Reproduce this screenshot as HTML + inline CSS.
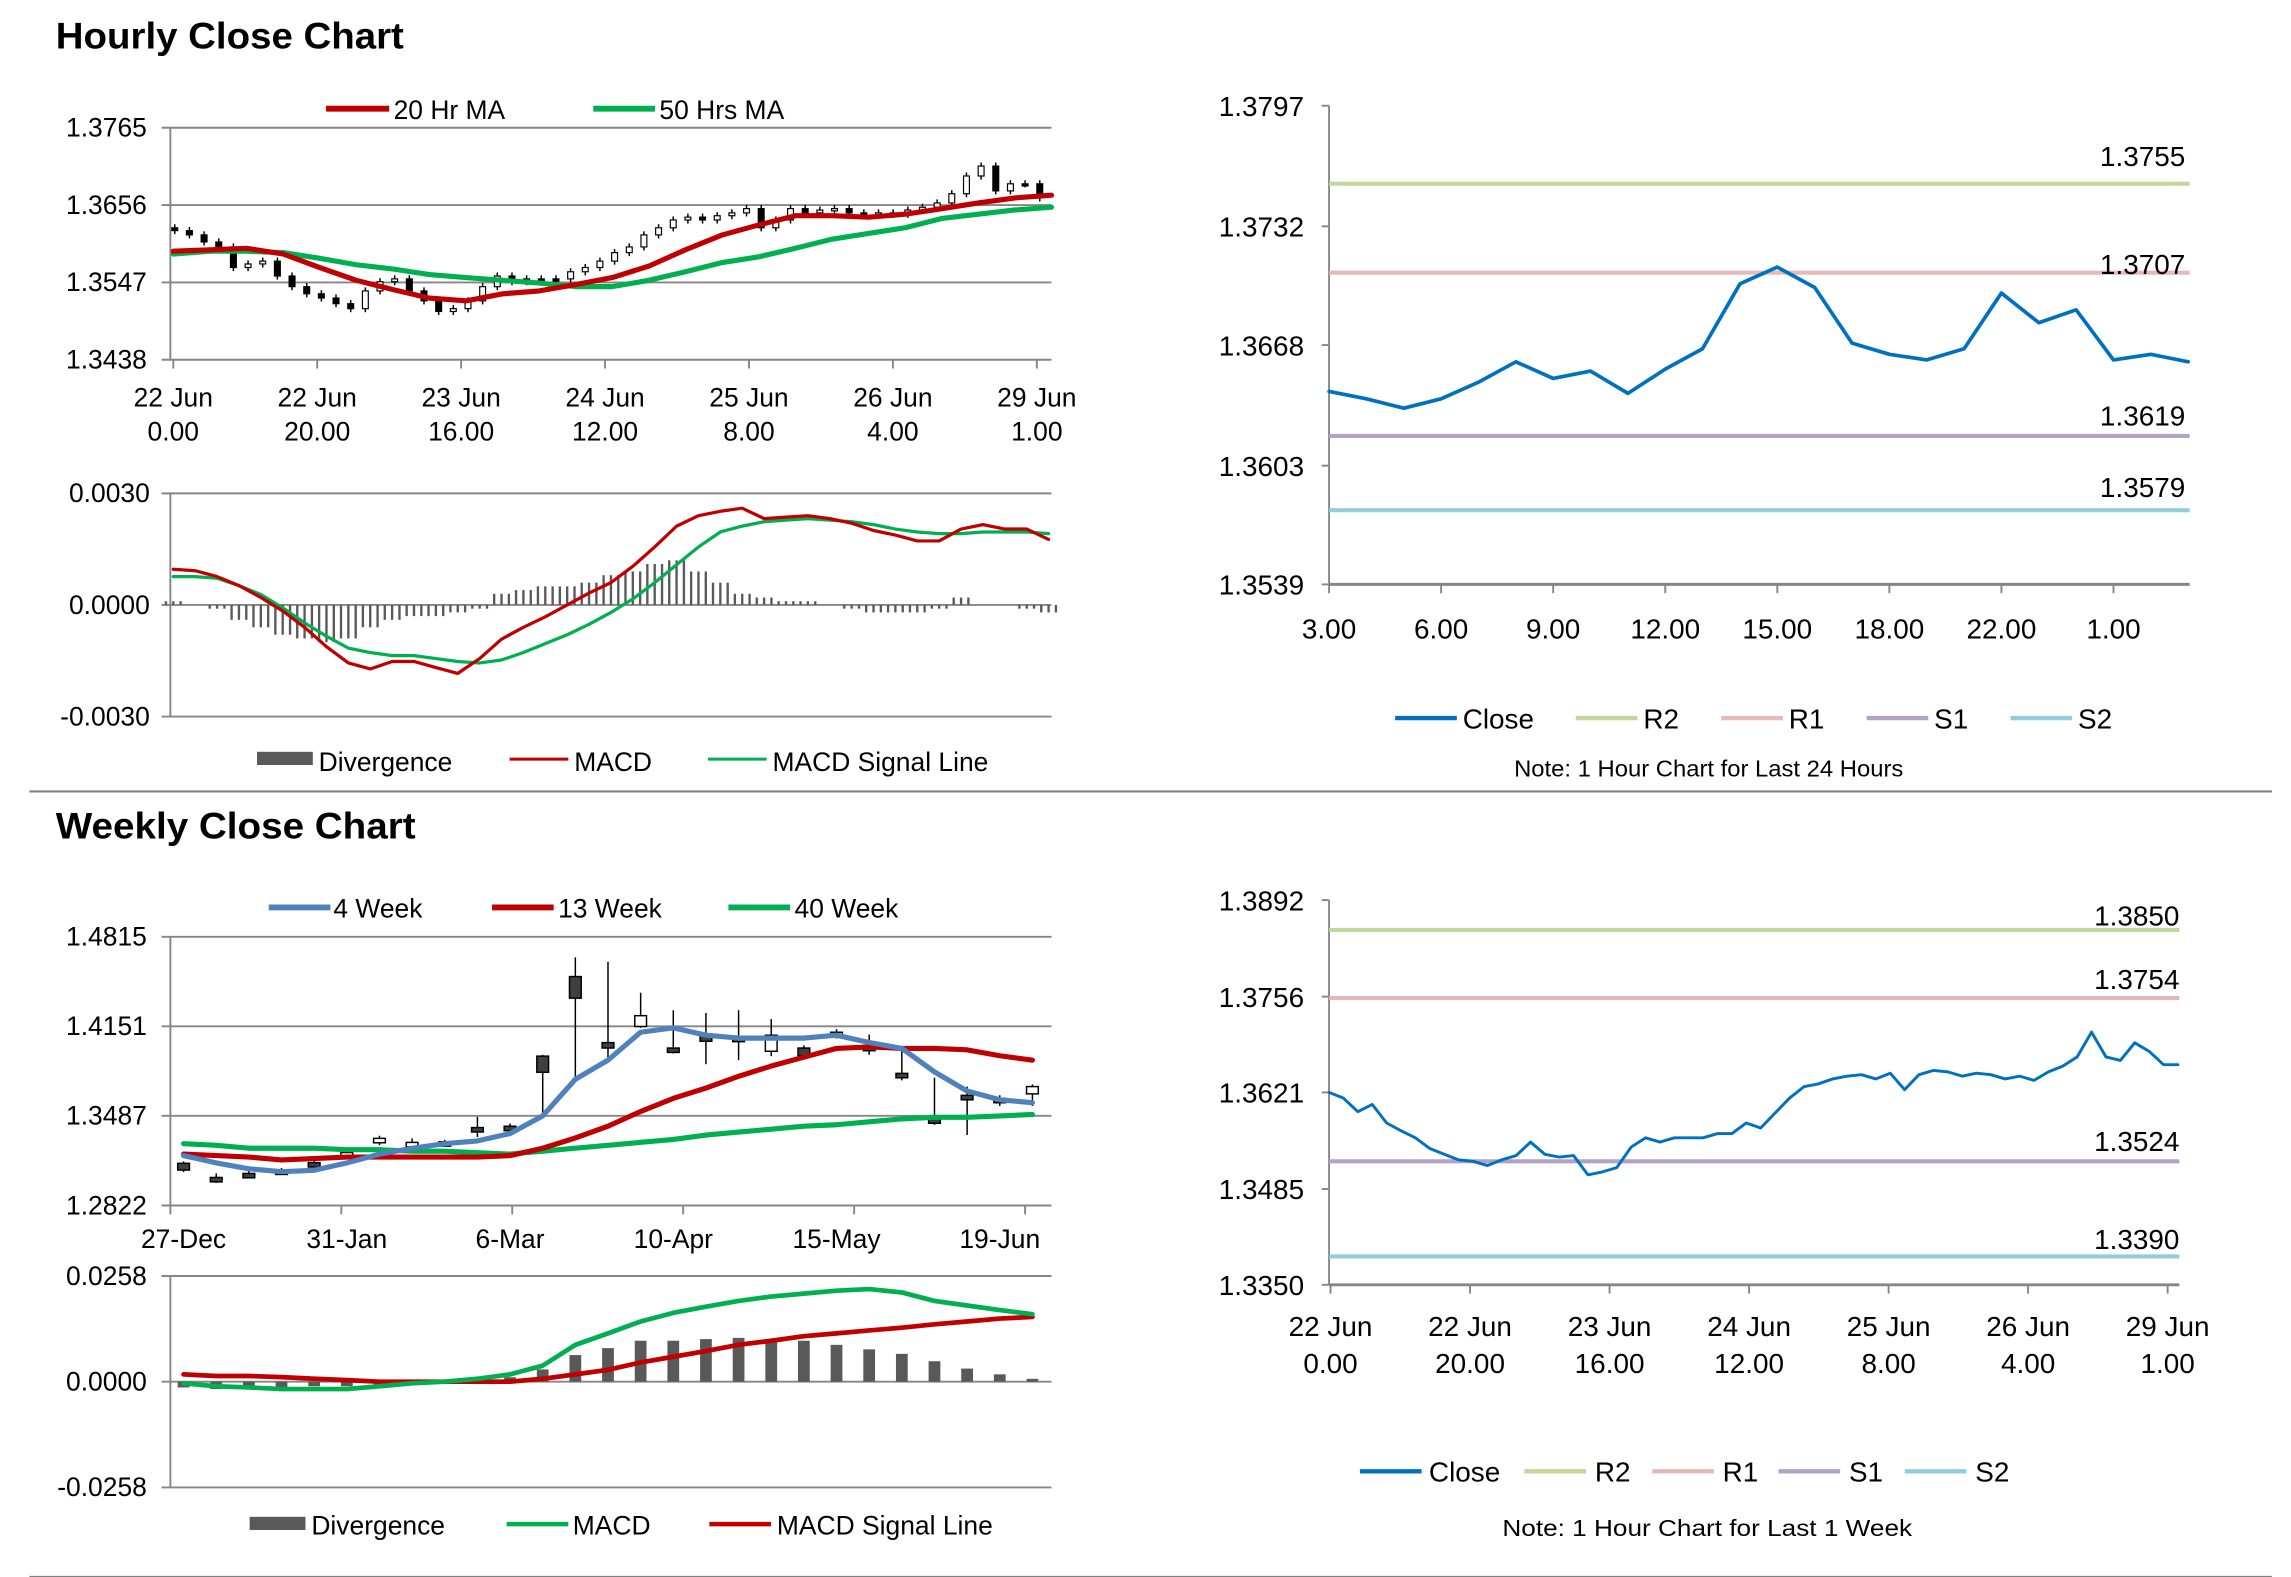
<!DOCTYPE html>
<html><head><meta charset="utf-8"><style>
html,body{margin:0;padding:0;background:#fff;}
svg{display:block;}
text{font-family:"Liberation Sans",Arial,sans-serif;fill:#000;}
</style></head><body>
<svg id="root" xmlns="http://www.w3.org/2000/svg" width="2291" height="1577" viewBox="0 0 1560 1074" preserveAspectRatio="none">
<rect x="0" y="0" width="1560" height="1074" fill="#fff"/>
<text x="38" y="33" font-size="25" font-weight="bold" textLength="237" lengthAdjust="spacingAndGlyphs">Hourly Close Chart</text>
<text x="38" y="571" font-size="25" font-weight="bold" textLength="245" lengthAdjust="spacingAndGlyphs">Weekly Close Chart</text>
<line x1="20" y1="539" x2="1547" y2="539" stroke="#808080" stroke-width="1.5"/>
<line x1="20" y1="1074" x2="1547" y2="1074" stroke="#808080" stroke-width="1.5"/>

<!-- legends -->
<g font-size="18">
<line x1="222" y1="74" x2="265" y2="74" stroke="#c00000" stroke-width="4"/><text x="268" y="81" font-size="18">20 Hr MA</text>
<line x1="404" y1="74" x2="446" y2="74" stroke="#00b050" stroke-width="4"/><text x="449" y="81" font-size="18">50 Hrs MA</text>
</g>
<g>
<rect x="175" y="512" width="38" height="9" fill="#595959"/><text x="217" y="525" font-size="18">Divergence</text>
<line x1="347" y1="517" x2="387" y2="517" stroke="#c00000" stroke-width="2"/><text x="391" y="525" font-size="18">MACD</text>
<line x1="482" y1="517" x2="522" y2="517" stroke="#00b050" stroke-width="2"/><text x="526" y="525" font-size="18">MACD Signal Line</text>
</g>
<g>
<line x1="950" y1="489" x2="992" y2="489" stroke="#0070c0" stroke-width="3"/><text x="996" y="496" font-size="19">Close</text>
<line x1="1073" y1="489" x2="1115" y2="489" stroke="#c3d69b" stroke-width="3"/><text x="1119" y="496" font-size="19">R2</text>
<line x1="1172" y1="489" x2="1214" y2="489" stroke="#e6b9b8" stroke-width="3"/><text x="1218" y="496" font-size="19">R1</text>
<line x1="1271" y1="489" x2="1313" y2="489" stroke="#b3a2c7" stroke-width="3"/><text x="1317" y="496" font-size="19">S1</text>
<line x1="1369" y1="489" x2="1411" y2="489" stroke="#93cddd" stroke-width="3"/><text x="1415" y="496" font-size="19">S2</text>
<text x="1031" y="529" font-size="16" textLength="265" lengthAdjust="spacingAndGlyphs">Note: 1 Hour Chart for Last 24 Hours</text>
</g>
<g>
<line x1="183" y1="618" x2="225" y2="618" stroke="#4f81bd" stroke-width="4"/><text x="227" y="625" font-size="18">4 Week</text>
<line x1="335" y1="618" x2="377" y2="618" stroke="#c00000" stroke-width="4"/><text x="380" y="625" font-size="18">13 Week</text>
<line x1="496" y1="618" x2="538" y2="618" stroke="#00b050" stroke-width="4"/><text x="541" y="625" font-size="18">40 Week</text>
</g>
<g>
<rect x="170" y="1033" width="38" height="9" fill="#595959"/><text x="212" y="1045" font-size="18">Divergence</text>
<line x1="345" y1="1038" x2="387" y2="1038" stroke="#00b050" stroke-width="3"/><text x="390" y="1045" font-size="18">MACD</text>
<line x1="483" y1="1038" x2="525" y2="1038" stroke="#c00000" stroke-width="3"/><text x="529" y="1045" font-size="18">MACD Signal Line</text>
</g>
<g>
<line x1="926" y1="1002" x2="968" y2="1002" stroke="#0070c0" stroke-width="3"/><text x="973" y="1009" font-size="19">Close</text>
<line x1="1038" y1="1002" x2="1080" y2="1002" stroke="#c3d69b" stroke-width="3"/><text x="1086" y="1009" font-size="19">R2</text>
<line x1="1125" y1="1002" x2="1167" y2="1002" stroke="#e6b9b8" stroke-width="3"/><text x="1173" y="1009" font-size="19">R1</text>
<line x1="1211" y1="1002" x2="1253" y2="1002" stroke="#b3a2c7" stroke-width="3"/><text x="1259" y="1009" font-size="19">S1</text>
<line x1="1297" y1="1002" x2="1339" y2="1002" stroke="#93cddd" stroke-width="3"/><text x="1345" y="1009" font-size="19">S2</text>
<text x="1023" y="1046" font-size="16" textLength="279" lengthAdjust="spacingAndGlyphs">Note: 1 Hour Chart for  Last 1 Week</text>
</g>
</svg>
<script>
// ===== Hourly candle chart data =====
const hcClose=[1.3620,1.3614,1.3604,1.3597,1.3568,1.3573,1.3577,1.3556,1.3541,1.3531,1.3525,1.3517,1.3510,1.3535,1.3548,1.3552,1.3535,1.3521,1.3506,1.3510,1.3521,1.3541,1.3556,1.3548,1.3552,1.3552,1.3552,1.3562,1.3568,1.3577,1.3589,1.3597,1.3614,1.3624,1.3635,1.3639,1.3635,1.3641,1.3645,1.3651,1.3624,1.3635,1.3651,1.3645,1.3649,1.3651,1.3645,1.3643,1.3645,1.3643,1.3649,1.3653,1.3659,1.3672,1.3697,1.3711,1.3676,1.3686,1.3686,1.3666];
const hcMA20=[1.3591,1.3593,1.3595,1.3587,1.3568,1.3550,1.3537,1.3525,1.3521,1.3531,1.3535,1.3544,1.3554,1.3570,1.3593,1.3614,1.3628,1.3641,1.3641,1.3639,1.3643,1.3651,1.3659,1.3666,1.3670];
const hcMA50=[1.3587,1.3591,1.3591,1.3589,1.3581,1.3572,1.3566,1.3558,1.3554,1.3550,1.3546,1.3541,1.3541,1.3550,1.3562,1.3575,1.3583,1.3595,1.3608,1.3616,1.3624,1.3637,1.3643,1.3649,1.3653];
const hcYTicks=[1.3765,1.3656,1.3547,1.3438];
const hcXDays=['22 Jun','22 Jun','23 Jun','24 Jun','25 Jun','26 Jun','29 Jun'];
const hcXHours=['0.00','20.00','16.00','12.00','8.00','4.00','1.00'];
// ===== Hourly MACD data =====
const hmMACD=[.00096,.00092,.00076,.00052,.0002,-.00016,-.0006,-.00112,-.00156,-.00172,-.00152,-.00152,-.00168,-.00184,-.00144,-.00092,-.0006,-.00032,0,.00032,.0006,.00104,.00156,.00212,.0024,.00252,.0026,.00232,.00236,.0024,.00232,.0022,.002,.00188,.00172,.00172,.00204,.00216,.00204,.00204,.00176];
const hmSignal=[.00076,.00076,.00072,.00052,.00028,-.00008,-.00048,-.00084,-.00116,-.00128,-.00136,-.00136,-.00144,-.00152,-.00156,-.00148,-.00128,-.00104,-.0008,-.00052,-.0002,.00016,.0006,.00108,.00156,.00196,.00212,.00224,.00228,.00232,.00228,.00224,.00216,.00204,.00196,.00192,.00192,.00196,.00196,.00196,.00192];
const hmDiv=[.0001,0,-.0001,-.0004,-.0006,-.0008,-.0009,-.001,-.0009,-.0006,-.0004,-.0003,-.0003,-.0002,-.0001,.0003,.0004,.0005,.0005,.0006,.0008,.0009,.0011,.0012,.0009,.0006,.0003,.0002,.0001,.0001,0,-.0001,-.0002,-.0002,-.0002,-.0001,.0002,0,0,-.0001,-.0002];
const hmYTicks=[0.003,0,-0.003];
const hmYLabels=['0.0030','0.0000','-0.0030'];
// ===== 24h close data =====
const d24Close=[1.3643,1.3639,1.3634,1.3639,1.3648,1.3659,1.3650,1.3654,1.3642,1.3655,1.3666,1.3701,1.3710,1.3699,1.3669,1.3663,1.3660,1.3666,1.3696,1.3680,1.3687,1.3660,1.3663,1.3659];
const d24Levels=[1.3755,1.3707,1.3619,1.3579];
const d24YTicks=['1.3797','1.3732','1.3668','1.3603','1.3539'];
const d24XIdx=[0,3,6,9,12,15,18,21];
const d24XLabels=['3.00','6.00','9.00','12.00','15.00','18.00','22.00','1.00'];
// ===== Weekly candle data =====
const wOpen=[1.3135,1.3030,1.3060,1.3085,1.3140,1.3210,1.3290,1.3275,1.3285,1.3400,1.3410,1.3930,1.4520,1.4030,1.4150,1.3990,1.4085,1.4070,1.3966,1.3990,1.4075,1.4009,1.3802,1.3480,1.3639,1.3617,1.3650];
const wClose=[1.3085,1.3010,1.3045,1.3080,1.3135,1.3215,1.3320,1.3290,1.3295,1.3395,1.3400,1.3810,1.4360,1.3990,1.4230,1.3970,1.4040,1.4060,1.4085,1.3933,1.4107,1.3970,1.3770,1.3432,1.3606,1.3610,1.3704];
const wHigh=[1.3150,1.3060,1.3080,1.3100,1.3160,1.3240,1.3340,1.3320,1.3310,1.3480,1.3430,1.3940,1.4663,1.4630,1.4400,1.4270,1.4250,1.4270,1.4205,1.4010,1.4130,1.4090,1.3990,1.3770,1.3704,1.3640,1.3720];
const wLow=[1.3070,1.2990,1.3030,1.3060,1.3120,1.3190,1.3270,1.3250,1.3270,1.3330,1.3380,1.3487,1.3760,1.3920,1.4140,1.3950,1.3870,1.3900,1.3930,1.3920,1.4060,1.3940,1.3750,1.3420,1.3345,1.3560,1.3560];
const w4=[1.3192,1.3138,1.3094,1.3073,1.3083,1.3138,1.3203,1.3247,1.3280,1.3301,1.3356,1.3486,1.3759,1.3900,1.4107,1.4140,1.4085,1.4064,1.4064,1.4064,1.4085,1.4031,1.3987,1.3813,1.3672,1.3606,1.3584];
const w13=[1.3203,1.3192,1.3181,1.3160,1.3170,1.3181,1.3181,1.3181,1.3181,1.3181,1.3192,1.3247,1.3323,1.3410,1.3519,1.3617,1.3693,1.3780,1.3857,1.3922,1.3987,1.3998,1.3987,1.3987,1.3976,1.3933,1.3900];
const w40=[1.3280,1.3269,1.3247,1.3247,1.3247,1.3236,1.3236,1.3225,1.3225,1.3214,1.3203,1.3225,1.3247,1.3269,1.3290,1.3312,1.3345,1.3367,1.3388,1.3410,1.3421,1.3443,1.3465,1.3476,1.3476,1.3486,1.3497];
const wYTicks=['1.4815','1.4151','1.3487','1.2822'];
const wXIdx=[0,5,10,15,20,25];
const wXLabels=['27-Dec','31-Jan','6-Mar','10-Apr','15-May','19-Jun'];
// ===== Weekly MACD =====
const wmMACD=[-.0004,-.0011,-.0014,-.0018,-.0018,-.0018,-.0011,-.0004,0,.0007,.0018,.0039,.0090,.0118,.0147,.0168,.0183,.0197,.0208,.0215,.0222,.0226,.0218,.0197,.0186,.0175,.0165];
const wmSignal=[.0018,.0014,.0014,.0011,.0007,.0004,0,0,0,0,0,.0007,.0018,.0029,.0047,.0061,.0075,.0090,.0100,.0111,.0118,.0125,.0132,.0140,.0147,.0154,.0158];
const wmDiv=[-.0014,-.0018,-.0018,-.0014,-.0011,-.0011,-.0007,-.0004,-.0004,.0004,.0011,.0030,.0065,.0082,.0100,.0100,.0104,.0107,.0104,.0100,.0090,.0079,.0068,.0050,.0032,.0018,.0007];
const wmYTicks=[0.0258,0,-0.0258];
const wmYLabels=['0.0258','0.0000','-0.0258'];
// ===== 1 week close =====
const wkClose=[1.3621,1.3613,1.3594,1.3604,1.3578,1.3567,1.3557,1.3542,1.3534,1.3526,1.3524,1.3518,1.3526,1.3532,1.3551,1.3534,1.3530,1.3532,1.3505,1.3509,1.3515,1.3544,1.3557,1.3551,1.3557,1.3557,1.3557,1.3563,1.3563,1.3578,1.3571,1.3592,1.3613,1.3629,1.3633,1.3640,1.3644,1.3646,1.3640,1.3648,1.3625,1.3646,1.3652,1.3650,1.3644,1.3648,1.3646,1.3640,1.3644,1.3638,1.3650,1.3658,1.3671,1.3706,1.3671,1.3666,1.3691,1.3679,1.3660,1.3660];
const wkLevels=[1.3850,1.3754,1.3524,1.3390];
const wkYTicks=['1.3892','1.3756','1.3621','1.3485','1.3350'];
const wkXDays=['22 Jun','22 Jun','23 Jun','24 Jun','25 Jun','26 Jun','29 Jun'];
const wkXHours=['0.00','20.00','16.00','12.00','8.00','4.00','1.00'];
const levelColors=['#c3d69b','#e6b9b8','#b3a2c7','#93cddd'];

const NS='http://www.w3.org/2000/svg';
const svg=document.getElementById('root');
function mk(tag,attrs,parent){const e=document.createElementNS(NS,tag);for(const k in attrs)e.setAttribute(k,attrs[k]);(parent||svg).appendChild(e);return e;}
function lin(d0,d1,r0,r1){return v=>r0+(v-d0)*(r1-r0)/(d1-d0);}
function grp(){return mk('g',{});}
function txt(g,x,y,s,anchor,size){const t=mk('text',{x:x,y:y,'text-anchor':anchor,'font-size':size||18},g);t.textContent=s;return t;}
function poly(g,arr,xs,ys,color,w){const pts=arr.map((v,i)=>xs(i).toFixed(1)+','+ys(v).toFixed(1)).join(' ');return mk('polyline',{points:pts,fill:'none',stroke:color,'stroke-width':w,'stroke-linejoin':'round','stroke-linecap':'round'},g);}
const GRID='#868686';

// ---------- Panel 1: hourly candles ----------
(function(){
const y=lin(1.3438,1.3765,245,87);
const xc=lin(0,hcClose.length-1,119,708);
const xm=lin(0,hcMA20.length-1,118,716);
const g=grp();


hcYTicks.forEach((v,i)=>{
  const l=mk('line',{x1:110,x2:716,y1:y(v),y2:y(v),stroke:GRID,'stroke-width':1.3},g);
  
  
  const t=txt(g,100,y(v)+6,v.toFixed(4),'end');
  
  
});
mk('line',{x1:116,x2:116,y1:87,y2:245,stroke:GRID,'stroke-width':1.3},g);
const xt=lin(0,hcXDays.length-1,118,706);
hcXDays.forEach((d,i)=>{
  mk('line',{x1:xt(i),x2:xt(i),y1:245,y2:251,stroke:GRID,'stroke-width':1.3},g);
  const t1=txt(g,xt(i),277,d,'middle');
  
  
  const t2=txt(g,xt(i),300,hcXHours[i],'middle');
  
  
});
hcClose.forEach((c,i)=>{
  const o=i===0?c+0.0004:hcClose[i-1];
  const hi=Math.max(o,c)+0.0005, lo=Math.min(o,c)-0.0005;
  const x=xc(i);
  const w=mk('line',{x1:x,x2:x,y1:y(hi),y2:y(lo),stroke:'#000','stroke-width':1},g);
  
  
  const top=y(Math.max(o,c)), h=Math.max(1.5,y(Math.min(o,c))-top);
  const b=mk('rect',{x:x-2,y:top,width:4,height:h,fill:c>o?'#fff':'#000',stroke:'#000','stroke-width':0.8},g);
  
  
});
const m50=poly(g,hcMA50,xm,y,'#00b050',3.5);


const m20=poly(g,hcMA20,xm,y,'#c00000',3.5);


})();

// ---------- Panel 2: hourly MACD ----------
(function(){
const y=lin(-0.003,0.003,488,336);
const x=lin(0,hmMACD.length-1,118,714);
const g=grp();


hmYTicks.forEach((v,i)=>{
  mk('line',{x1:110,x2:716,y1:y(v),y2:y(v),stroke:GRID,'stroke-width':1.3},g);
  const t=txt(g,102,y(v)+6,hmYLabels[i],'end');
  
  
});
mk('line',{x1:116,x2:116,y1:336,y2:488,stroke:GRID,'stroke-width':1.3},g);
hmDiv.forEach((v,i)=>{
  const y0=y(0), y1=y(v);
  for(let k=-1;k<=1;k++){
    const bx=x(i)+k*5;
    const b=mk('rect',{x:bx-0.8,y:Math.min(y0,y1),width:1.6,height:Math.abs(y1-y0),fill:'#595959'},g);
    
    
  }
});
const s=poly(g,hmSignal,x,y,'#00b050',2.2);


const m=poly(g,hmMACD,x,y,'#c00000',2.2);


})();

// ---------- Panel 3: last 24h ----------
(function(){
const y=lin(1.3539,1.3797,398,72);
const x=lin(0,d24Close.length-1,905,1490);
const g=grp();


d24YTicks.forEach(s=>{
  const v=parseFloat(s);
  mk('line',{x1:900,x2:905,y1:y(v),y2:y(v),stroke:GRID,'stroke-width':1.3},g);
  const t=txt(g,888,y(v)+7,s,'end',19);
  
  
});
mk('line',{x1:905,x2:905,y1:72,y2:398,stroke:GRID,'stroke-width':1.3},g);
mk('line',{x1:905,x2:1491,y1:398,y2:398,stroke:GRID,'stroke-width':2},g);
d24XIdx.forEach((idx,i)=>{
  mk('line',{x1:x(idx),x2:x(idx),y1:398,y2:404,stroke:GRID,'stroke-width':1.3},g);
  const t=txt(g,x(idx),435,d24XLabels[i],'middle',19);
  
  
});
const dy=[-12,1,-7,-9];
d24Levels.forEach((v,i)=>{
  const l=mk('line',{x1:905,x2:1491,y1:y(v),y2:y(v),stroke:levelColors[i],'stroke-width':2.8},g);
  
  
  const t=txt(g,1488,y(v)+dy[i],v.toFixed(4),'end',19);
  
  
});
const c=poly(g,d24Close,x,y,'#0070c0',2.5);


})();

// ---------- Panel 4: weekly candles ----------
(function(){
const y=lin(1.2822,1.4815,821,638);
const x=lin(0,wClose.length-1,125,703);
const g=grp();


wYTicks.forEach(s=>{
  const v=parseFloat(s);
  mk('line',{x1:110,x2:716,y1:y(v),y2:y(v),stroke:GRID,'stroke-width':1.3},g);
  const t=txt(g,100,y(v)+6,s,'end');
  
  
});
mk('line',{x1:116,x2:116,y1:638,y2:821,stroke:GRID,'stroke-width':1.3},g);
const xt=lin(0,5,116,698);
wXIdx.forEach((idx,i)=>{
  mk('line',{x1:xt(i),x2:xt(i),y1:821,y2:827,stroke:GRID,'stroke-width':1.3},g);
  const t=txt(g,x(idx),850,wXLabels[i],'middle');
  
  
});
wClose.forEach((c,i)=>{
  const o=wOpen[i], cx=x(i);
  const w=mk('line',{x1:cx,x2:cx,y1:y(wHigh[i]),y2:y(wLow[i]),stroke:'#000','stroke-width':1},g);
  
  
  const top=y(Math.max(o,c)), h=Math.max(3,y(Math.min(o,c))-top);
  const b=mk('rect',{x:cx-4,y:top,width:8,height:h,fill:c>o?'#fff':'#404040',stroke:'#000','stroke-width':1},g);
  
  
});
const l40=poly(g,w40,x,y,'#00b050',3.5);


const l13=poly(g,w13,x,y,'#c00000',3.5);


const l4=poly(g,w4,x,y,'#4f81bd',3.5);


})();

// ---------- Panel 5: weekly MACD ----------
(function(){
const y=lin(-0.0258,0.0258,1013,869);
const x=lin(0,wmMACD.length-1,125,703);
const g=grp();


wmYTicks.forEach((v,i)=>{
  mk('line',{x1:110,x2:716,y1:y(v),y2:y(v),stroke:GRID,'stroke-width':1.3},g);
  const t=txt(g,100,y(v)+6,wmYLabels[i],'end');
  
  
});
mk('line',{x1:116,x2:116,y1:869,y2:1013,stroke:GRID,'stroke-width':1.3},g);
wmDiv.forEach((v,i)=>{
  const y0=y(0), y1=y(v);
  const b=mk('rect',{x:x(i)-4,y:Math.min(y0,y1),width:8,height:Math.abs(y1-y0),fill:'#595959'},g);
  
  
});
const s=poly(g,wmSignal,x,y,'#c00000',3.2);


const m=poly(g,wmMACD,x,y,'#00b050',3.2);


})();

// ---------- Panel 6: last week ----------
(function(){
const y=lin(1.3350,1.3892,875,613);
const x=lin(0,wkClose.length-1,905,1483);
const g=grp();


wkYTicks.forEach(s=>{
  const v=parseFloat(s);
  mk('line',{x1:900,x2:905,y1:y(v),y2:y(v),stroke:GRID,'stroke-width':1.3},g);
  const t=txt(g,888,y(v)+7,s,'end',19);
  
  
});
mk('line',{x1:905,x2:905,y1:613,y2:875,stroke:GRID,'stroke-width':1.3},g);
mk('line',{x1:905,x2:1484,y1:875,y2:875,stroke:GRID,'stroke-width':2},g);
const xt=lin(0,wkXDays.length-1,906,1476);
wkXDays.forEach((d,i)=>{
  mk('line',{x1:xt(i),x2:xt(i),y1:875,y2:881,stroke:GRID,'stroke-width':1.3},g);
  const t1=txt(g,xt(i),910,d,'middle',19);
  
  
  const t2=txt(g,xt(i),935,wkXHours[i],'middle',19);
  
  
});
const dy=[-3,-6,-7,-5];
wkLevels.forEach((v,i)=>{
  const l=mk('line',{x1:905,x2:1484,y1:y(v),y2:y(v),stroke:levelColors[i],'stroke-width':2.8},g);
  
  
  const t=txt(g,1484,y(v)+dy[i],v.toFixed(4),'end',19);
  
  
});
const c=poly(g,wkClose,x,y,'#0070c0',2);


})();
</script>
</body></html>
